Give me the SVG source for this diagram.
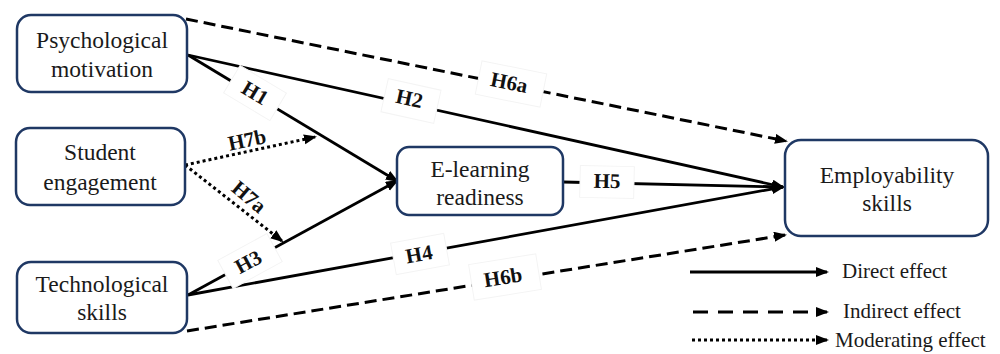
<svg xmlns="http://www.w3.org/2000/svg" width="1000" height="354" viewBox="0 0 1000 354">
<style>
.box{fill:#fff;stroke:#1f3864;stroke-width:2.5}
.nt{font-family:"Liberation Serif","Times New Roman",serif;font-size:23.5px;fill:#1a1a1a;text-anchor:middle}
.lt{font-family:"Liberation Serif","Times New Roman",serif;font-size:21px;fill:#1a1a1a}
.lab{font-family:"Liberation Serif","Times New Roman",serif;font-size:21px;font-weight:bold;fill:#111;text-anchor:middle}
.lbox{fill:#fff;stroke:#f4f4f4;stroke-width:1}
.direct{fill:none;stroke:#000;stroke-width:2.8}
.indirect{fill:none;stroke:#000;stroke-width:3;stroke-dasharray:12 6}
.moder{fill:none;stroke:#000;stroke-width:3;stroke-dasharray:3 3}
</style>
<defs>
<marker id="ah" markerUnits="userSpaceOnUse" markerWidth="14" markerHeight="12" refX="11" refY="5" orient="auto">
<path d="M0,0 L13,5 L0,10 z" fill="#000"/>
</marker>
</defs>
<rect width="1000" height="354" fill="#fff"/>
<g id="connectors">
<path class="direct" d="M188,55 L397,181" marker-end="url(#ah)"/>
<path class="direct" d="M188,55 L783,187" marker-end="url(#ah)"/>
<path class="direct" d="M188,295 L397,181" marker-end="url(#ah)"/>
<path class="direct" d="M188,295 L783,187" marker-end="url(#ah)"/>
<path class="direct" d="M563,182 L783,187" marker-end="url(#ah)"/>
<path class="indirect" d="M186,19 L786,141" marker-end="url(#ah)"/>
<path class="indirect" d="M187,331 L785,235" marker-end="url(#ah)"/>
<path class="moder" d="M185,165 L315,137" marker-end="url(#ah)"/>
<path class="moder" d="M185,165 L282,241" marker-end="url(#ah)"/>
<g transform="translate(255,93) rotate(31)"><rect class="lbox" x="-27" y="-16" width="54" height="32"/><text class="lab" x="0" y="7">H1</text></g>
<g transform="translate(411,101) rotate(12.5)"><rect class="lbox" x="-27" y="-17" width="54" height="34"/><text class="lab" x="-2" y="5">H2</text></g>
<g transform="translate(250,261) rotate(-28.6)"><rect class="lbox" x="-28" y="-16" width="56" height="32"/><text class="lab" x="-2" y="7">H3</text></g>
<g transform="translate(420,254) rotate(-10.3)"><rect class="lbox" x="-27" y="-16" width="54" height="32"/><text class="lab" x="-1" y="7">H4</text></g>
<g transform="translate(607,182) rotate(1.3)"><rect class="lbox" x="-27" y="-16" width="54" height="32"/><text class="lab" x="0" y="6">H5</text></g>
<g transform="translate(511,84) rotate(11.4)"><rect class="lbox" x="-33" y="-17" width="66" height="34"/><text class="lab" x="-2" y="6">H6a</text></g>
<g transform="translate(505,277) rotate(-9.1)"><rect class="lbox" x="-34" y="-18" width="68" height="36"/><text class="lab" x="-2" y="7">H6b</text></g>
<g transform="translate(247,140) rotate(-12)"><text class="lab" x="0" y="7">H7b</text></g>
<g transform="translate(249,197) rotate(40)"><text class="lab" x="0" y="7">H7a</text></g>
</g>
<g id="node-psych">
<rect class="box" x="17" y="15" width="170" height="77" rx="14"/>
<text class="nt" x="102" y="48">Psychological</text>
<text class="nt" x="102" y="77">motivation</text>
</g>
<g id="node-student">
<rect class="box" x="16" y="128" width="169" height="77" rx="14"/>
<text class="nt" x="100" y="160">Student</text>
<text class="nt" x="100" y="190">engagement</text>
</g>
<g id="node-tech">
<rect class="box" x="17" y="262" width="170" height="71" rx="14"/>
<text class="nt" x="102" y="292">Technological</text>
<text class="nt" x="102" y="320">skills</text>
</g>
<g id="node-elearning">
<rect class="box" x="397" y="147" width="166" height="68" rx="12"/>
<text class="nt" x="480" y="177">E-learning</text>
<text class="nt" x="480" y="205">readiness</text>
</g>
<g id="node-employability">
<rect class="box" x="785" y="140" width="203" height="96" rx="16"/>
<text class="nt" x="887" y="183">Employability</text>
<text class="nt" x="887" y="211">skills</text>
</g>
<g id="legend">
<path class="direct" d="M690,272 L827,272" marker-end="url(#ah)"/>
<path fill="none" stroke="#000" stroke-width="3" stroke-dasharray="15 10" d="M693,312 L827,312" marker-end="url(#ah)"/>
<path class="moder" d="M692,340 L827,340" marker-end="url(#ah)"/>
<text class="lt" x="842" y="278">Direct effect</text>
<text class="lt" x="843" y="318">Indirect effect</text>
<text class="lt" x="835" y="347">Moderating effect</text>
</g>
</svg>
